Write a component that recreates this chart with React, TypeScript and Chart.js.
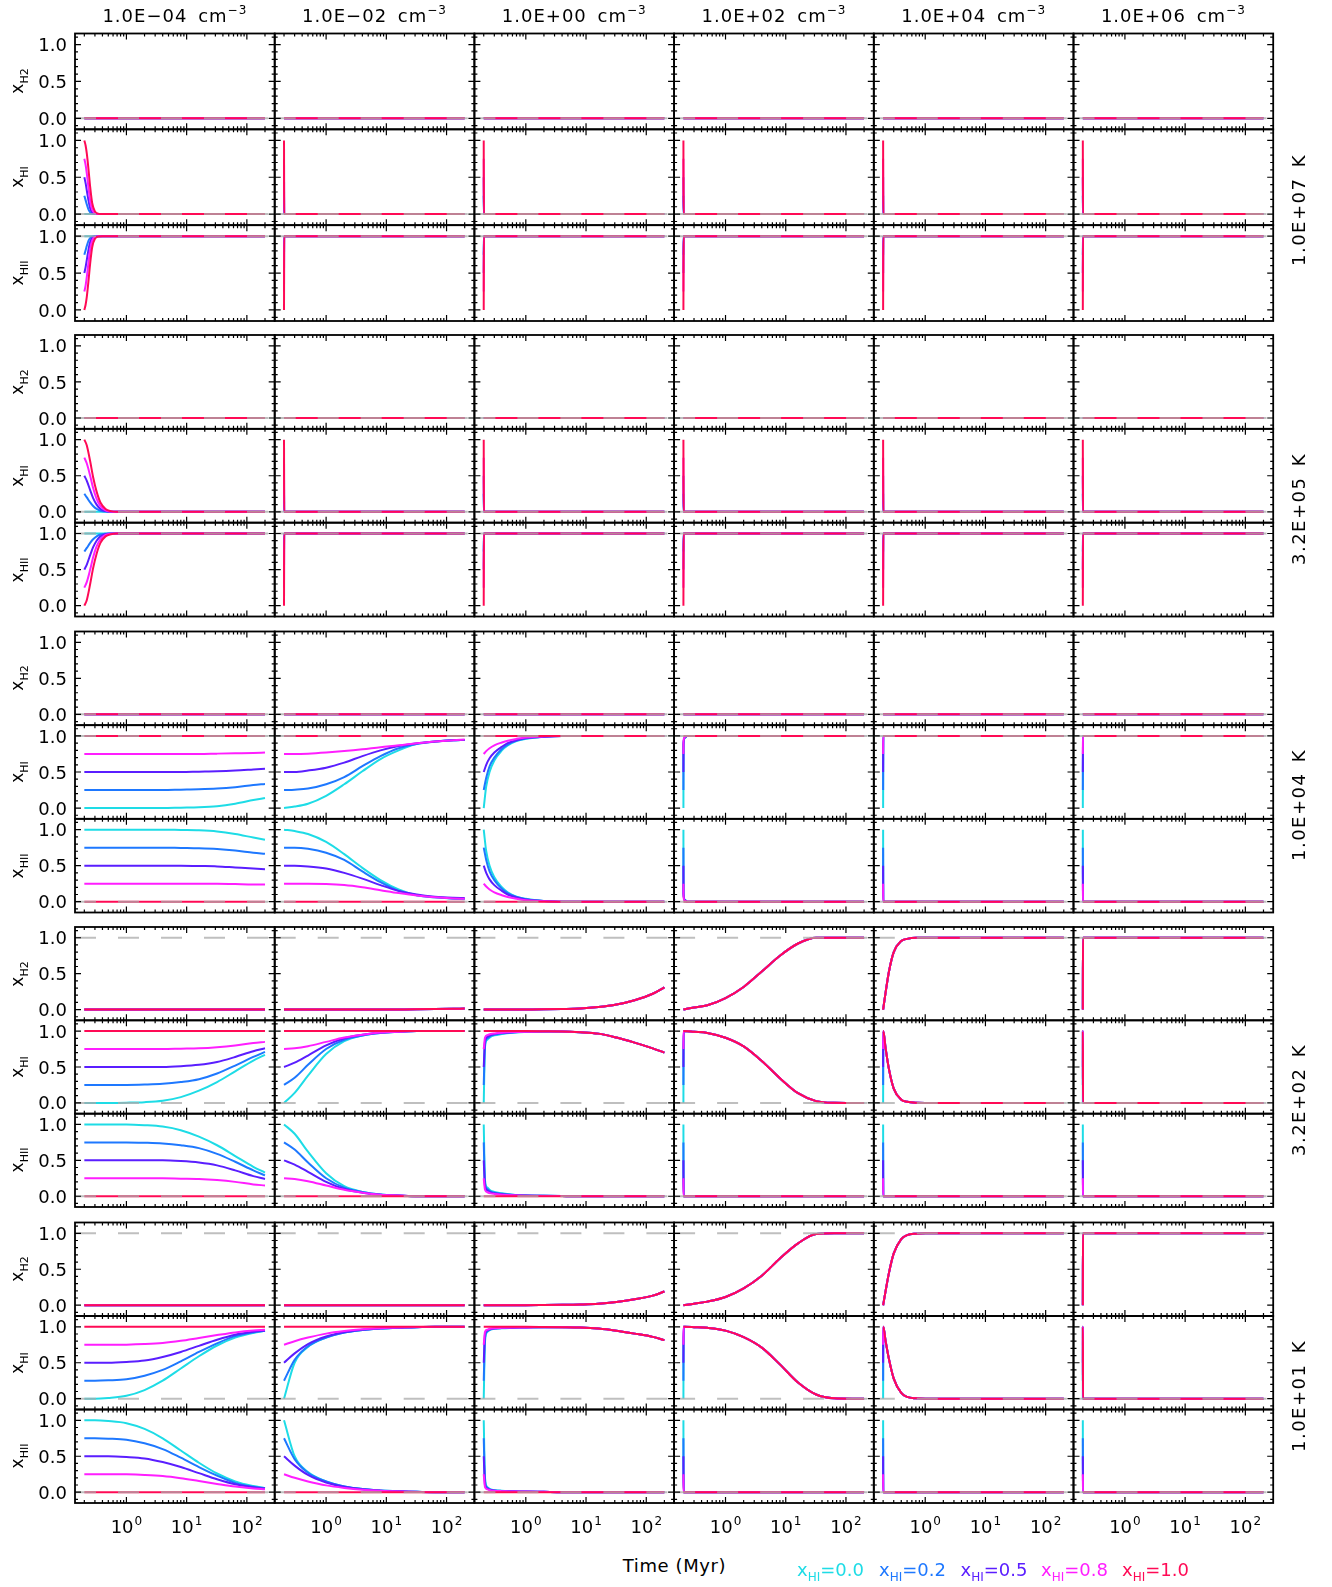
import React, { useEffect, useRef } from "react";
import { Chart, registerables } from "chart.js";

Chart.register(...registerables);

// ---------------- labels & categories ----------------
const COLUMN_DENSITIES = ["1.0E−04", "1.0E−02", "1.0E+00", "1.0E+02", "1.0E+04", "1.0E+06"];
const TEMPERATURES = ["1.0E+07 K", "3.2E+05 K", "1.0E+04 K", "3.2E+02 K", "1.0E+01 K"];
const SPECIES = ["H2", "HI", "HII"];
const RUN_LABELS = ["0.0", "0.2", "0.5", "0.8", "1.0"];
const RUN_COLORS = ["#1edce6", "#1e78ff", "#5a1eff", "#ff1eff", "#ff0a55"];
const GRAY = "rgba(170,170,170,0.75)";

// initial fractions of the five runs
const START_HI = [0, 0.25, 0.5, 0.75, 1];
const START_HII = [1, 0.75, 0.5, 0.25, 0];
// equilibrium (dashed gray) values per temperature: [H2, HI, HII]
const EQUILIBRIUM = [
  [0, 0, 1],
  [0, 0, 1],
  [0, 1, 0],
  [1, 0, 0],
  [1, 0, 0],
];

// axes
const X_MIN = 0.14;
const X_MAX = 290;
const Y_MIN = -0.15;
const Y_MAX = 1.15;
const X_MAJOR = [1, 10, 100];
const X_MINOR = [0.2, 0.3, 0.4, 0.5, 0.6, 0.7, 0.8, 0.9, 2, 3, 4, 5, 6, 7, 8, 9, 20, 30, 40, 50, 60, 70, 80, 90, 200];
const Y_MAJOR = [0, 0.5, 1];
const Y_MINOR = [-0.1, 0.1, 0.2, 0.3, 0.4, 0.6, 0.7, 0.8, 0.9, 1.1];

// ---------------- time grids (Myr) ----------------
const T_FLAT = [0.2, 200];
const T_STEP = [0.2, 0.201, 200];
const T_SPIKE = [0.2, 0.2005, 0.201, 200];
const T_EDGE = [0.2, 0.2005, 0.21, 0.23, 200];
const T_ION1 = [0.2, 0.21, 0.22, 0.235, 0.25, 0.27, 0.3, 0.35, 0.4, 200];
const T_ION2 = [0.2, 0.22, 0.25, 0.28, 0.32, 0.37, 0.45, 0.55, 0.7, 200];
const T_SLOW = [0.2, 0.3, 0.5, 1, 2, 4, 8, 16, 32, 64, 128, 200];
const T_FAST = [0.2, 0.22, 0.25, 0.3, 0.4, 0.5, 0.7, 1, 2, 4, 10, 200];
const T_MIX = [0.2, 0.21, 0.23, 0.26, 0.3, 0.4, 0.6, 1, 2, 4, 8, 16, 32, 64, 128, 200];
const T_LATE = [0.2, 0.201, 0.3, 0.5, 1, 2, 4, 8, 16, 32, 64, 128, 200];
const T_JUMP = [0.2, 0.201, 0.22, 0.25, 0.3, 0.4, 0.5, 0.7, 1, 200];

// ---------------- generic curves ----------------
const H2_NONE = [[0, 0], [0, 0], [0, 0], [0, 0], [0, 0]];
const HI_DROP = [[0, 0, 0], [0.25, 0, 0], [0.5, 0, 0], [0.75, 0, 0], [1, 0, 0]];
const HII_RISE = [[1, 1, 1], [0.75, 1, 1], [0.5, 1, 1], [0.25, 1, 1], [0, 1, 1]];
const HI_RISE = [[0, 1, 1], [0.25, 1, 1], [0.5, 1, 1], [0.75, 1, 1], [1, 1, 1]];
const HII_DROP = [[1, 0, 0], [0.75, 0, 0], [0.5, 0, 0], [0.25, 0, 0], [0, 0, 0]];
const HI_SPIKE = [[0, 1, 0, 0], [0.25, 1, 0, 0], [0.5, 1, 0, 0], [0.75, 1, 0, 0], [1, 1, 0, 0]];
const H2_STEP = [0, 1, 1];

// ---------------- 1.0E+07 K ----------------
const HI_G0_C0 = [
  [0, 0, 0, 0, 0, 0, 0, 0, 0, 0],
  [0.25, 0.19, 0.13, 0.06, 0.025, 0.007, 0.001, 0, 0, 0],
  [0.5, 0.42, 0.32, 0.18, 0.08, 0.025, 0.004, 0, 0, 0],
  [0.75, 0.67, 0.55, 0.35, 0.18, 0.06, 0.012, 0.001, 0, 0],
  [1, 0.93, 0.82, 0.6, 0.37, 0.15, 0.035, 0.003, 0, 0],
];
const HII_G0_C0 = [
  [1, 1, 1, 1, 1, 1, 1, 1, 1, 1],
  [0.75, 0.81, 0.87, 0.94, 0.975, 0.993, 0.999, 1, 1, 1],
  [0.5, 0.58, 0.68, 0.82, 0.92, 0.975, 0.996, 1, 1, 1],
  [0.25, 0.33, 0.45, 0.65, 0.82, 0.94, 0.988, 0.999, 1, 1],
  [0, 0.07, 0.18, 0.4, 0.63, 0.85, 0.965, 0.997, 1, 1],
];

// ---------------- 3.2E+05 K ----------------
const HI_G1_C0 = [
  [0, 0, 0, 0, 0, 0, 0, 0, 0, 0],
  [0.25, 0.2, 0.13, 0.08, 0.04, 0.015, 0.003, 0, 0, 0],
  [0.5, 0.43, 0.3, 0.19, 0.1, 0.04, 0.01, 0.001, 0, 0],
  [0.75, 0.67, 0.5, 0.33, 0.18, 0.08, 0.02, 0.004, 0, 0],
  [1, 0.92, 0.7, 0.48, 0.28, 0.13, 0.04, 0.01, 0, 0],
];
const HII_G1_C0 = [
  [1, 1, 1, 1, 1, 1, 1, 1, 1, 1],
  [0.75, 0.8, 0.87, 0.92, 0.96, 0.985, 0.997, 1, 1, 1],
  [0.5, 0.57, 0.7, 0.81, 0.9, 0.96, 0.99, 0.999, 1, 1],
  [0.25, 0.33, 0.5, 0.67, 0.82, 0.92, 0.98, 0.996, 1, 1],
  [0, 0.08, 0.3, 0.52, 0.72, 0.87, 0.96, 0.99, 1, 1],
];

// ---------------- 1.0E+04 K ----------------
const HI_G2_C0 = [
  [0, 0, 0, 0, 0, 0, 0.005, 0.01, 0.025, 0.06, 0.11, 0.14],
  [0.25, 0.25, 0.25, 0.25, 0.25, 0.25, 0.255, 0.26, 0.27, 0.29, 0.32, 0.335],
  [0.5, 0.5, 0.5, 0.5, 0.5, 0.5, 0.5, 0.505, 0.51, 0.52, 0.535, 0.545],
  [0.75, 0.75, 0.75, 0.75, 0.75, 0.75, 0.75, 0.75, 0.755, 0.76, 0.765, 0.77],
  [1, 1, 1, 1, 1, 1, 1, 1, 1, 1, 1, 1],
];
const HII_G2_C0 = [
  [1, 1, 1, 1, 1, 1, 0.995, 0.99, 0.975, 0.94, 0.89, 0.86],
  [0.75, 0.75, 0.75, 0.75, 0.75, 0.75, 0.745, 0.74, 0.73, 0.71, 0.68, 0.665],
  [0.5, 0.5, 0.5, 0.5, 0.5, 0.5, 0.5, 0.495, 0.49, 0.475, 0.46, 0.45],
  [0.25, 0.25, 0.25, 0.25, 0.25, 0.25, 0.25, 0.25, 0.25, 0.245, 0.24, 0.24],
  [0, 0, 0, 0, 0, 0, 0, 0, 0, 0, 0, 0],
];
const HI_G2_C1 = [
  [0, 0.02, 0.06, 0.17, 0.33, 0.51, 0.68, 0.8, 0.89, 0.925, 0.94, 0.945],
  [0.25, 0.255, 0.27, 0.33, 0.43, 0.58, 0.72, 0.83, 0.89, 0.92, 0.94, 0.945],
  [0.5, 0.5, 0.52, 0.56, 0.63, 0.72, 0.8, 0.86, 0.9, 0.925, 0.94, 0.945],
  [0.75, 0.75, 0.755, 0.77, 0.79, 0.815, 0.845, 0.87, 0.9, 0.925, 0.94, 0.95],
  [1, 1, 1, 1, 1, 1, 1, 1, 1, 1, 1, 1],
];
const HII_G2_C1 = [
  [1, 0.98, 0.94, 0.83, 0.66, 0.47, 0.3, 0.17, 0.09, 0.06, 0.04, 0.035],
  [0.75, 0.75, 0.735, 0.68, 0.58, 0.42, 0.27, 0.15, 0.09, 0.06, 0.045, 0.04],
  [0.5, 0.5, 0.49, 0.46, 0.4, 0.32, 0.23, 0.15, 0.1, 0.07, 0.055, 0.05],
  [0.25, 0.25, 0.25, 0.245, 0.23, 0.2, 0.16, 0.12, 0.085, 0.06, 0.045, 0.04],
  [0, 0, 0, 0, 0, 0, 0, 0, 0, 0, 0, 0],
];
const HI_G2_C2 = [
  [0, 0.3, 0.5, 0.66, 0.8, 0.87, 0.93, 0.96, 0.99, 1, 1, 1],
  [0.25, 0.42, 0.58, 0.7, 0.82, 0.88, 0.935, 0.965, 0.99, 1, 1, 1],
  [0.5, 0.6, 0.69, 0.77, 0.85, 0.9, 0.94, 0.97, 0.99, 1, 1, 1],
  [0.75, 0.79, 0.83, 0.87, 0.91, 0.935, 0.96, 0.98, 0.995, 1, 1, 1],
  [1, 1, 1, 1, 1, 1, 1, 1, 1, 1, 1, 1],
];
const HII_G2_C2 = [
  [1, 0.7, 0.5, 0.34, 0.2, 0.13, 0.07, 0.04, 0.01, 0, 0, 0],
  [0.75, 0.58, 0.42, 0.3, 0.18, 0.12, 0.065, 0.035, 0.01, 0, 0, 0],
  [0.5, 0.4, 0.31, 0.23, 0.15, 0.1, 0.06, 0.03, 0.01, 0, 0, 0],
  [0.25, 0.21, 0.17, 0.13, 0.09, 0.065, 0.04, 0.02, 0.005, 0, 0, 0],
  [0, 0, 0, 0, 0, 0, 0, 0, 0, 0, 0, 0],
];
const HI_G2_C3 = [
  [0, 0.85, 0.97, 1, 1],
  [0.25, 0.88, 0.975, 1, 1],
  [0.5, 0.9, 0.98, 1, 1],
  [0.75, 0.93, 0.985, 1, 1],
  [1, 1, 1, 1, 1],
];
const HII_G2_C3 = [
  [1, 0.15, 0.03, 0, 0],
  [0.75, 0.12, 0.025, 0, 0],
  [0.5, 0.1, 0.02, 0, 0],
  [0.25, 0.07, 0.015, 0, 0],
  [0, 0, 0, 0, 0],
];

// ---------------- 3.2E+02 K ----------------
const H2_G3_C1 = [0, 0, 0, 0, 0, 0, 0, 0.002, 0.004, 0.007, 0.011, 0.014];
const H2_G3_C2 = [0, 0, 0, 0.002, 0.004, 0.008, 0.015, 0.035, 0.07, 0.13, 0.22, 0.31];
const H2_G3_C3 = [0, 0.03, 0.06, 0.16, 0.315, 0.53, 0.75, 0.92, 1, 1, 1, 1];
const H2_G3_C4 = [0, 0.24, 0.53, 0.8, 0.955, 0.985, 1, 1, 1, 1, 1, 1];
const HI_G3_C0 = [
  [0, 0, 0, 0.003, 0.01, 0.03, 0.08, 0.17, 0.29, 0.44, 0.59, 0.67],
  [0.25, 0.25, 0.25, 0.25, 0.255, 0.265, 0.29, 0.33, 0.41, 0.52, 0.64, 0.71],
  [0.5, 0.5, 0.5, 0.5, 0.5, 0.5, 0.51, 0.53, 0.57, 0.64, 0.72, 0.76],
  [0.75, 0.75, 0.75, 0.75, 0.75, 0.75, 0.755, 0.76, 0.775, 0.8, 0.835, 0.85],
  [1, 1, 1, 1, 1, 1, 1, 1, 1, 1, 1, 1],
];
const HII_G3_C0 = [
  [1, 1, 1, 1, 0.99, 0.97, 0.92, 0.83, 0.71, 0.56, 0.41, 0.33],
  [0.75, 0.75, 0.75, 0.75, 0.745, 0.735, 0.71, 0.67, 0.59, 0.48, 0.36, 0.29],
  [0.5, 0.5, 0.5, 0.5, 0.5, 0.5, 0.49, 0.47, 0.43, 0.36, 0.28, 0.24],
  [0.25, 0.25, 0.25, 0.25, 0.25, 0.25, 0.245, 0.24, 0.225, 0.2, 0.165, 0.15],
  [0, 0, 0, 0, 0, 0, 0, 0, 0, 0, 0, 0],
];
const HI_G3_C1 = [
  [0, 0.14, 0.38, 0.68, 0.86, 0.94, 0.975, 0.99, 1, 1, 1, 1],
  [0.25, 0.35, 0.53, 0.75, 0.88, 0.94, 0.975, 0.99, 1, 1, 1, 1],
  [0.5, 0.56, 0.66, 0.8, 0.9, 0.95, 0.98, 0.99, 1, 1, 1, 1],
  [0.75, 0.76, 0.79, 0.85, 0.91, 0.95, 0.98, 0.99, 1, 1, 1, 1],
  [1, 1, 1, 1, 1, 1, 1, 1, 1, 1, 1, 1],
];
const HII_G3_C1 = [
  [1, 0.87, 0.62, 0.32, 0.14, 0.06, 0.025, 0.01, 0, 0, 0, 0],
  [0.75, 0.65, 0.47, 0.25, 0.12, 0.06, 0.025, 0.01, 0, 0, 0, 0],
  [0.5, 0.44, 0.34, 0.2, 0.1, 0.05, 0.02, 0.01, 0, 0, 0, 0],
  [0.25, 0.24, 0.21, 0.15, 0.09, 0.05, 0.02, 0.01, 0, 0, 0, 0],
  [0, 0, 0, 0, 0, 0, 0, 0, 0, 0, 0, 0],
];
const HI_G3_C2 = [
  [0, 0.78, 0.88, 0.92, 0.94, 0.96, 0.978, 0.988, 0.995, 0.995, 0.985, 0.965, 0.91, 0.84, 0.76, 0.7],
  [0.25, 0.82, 0.9, 0.935, 0.95, 0.967, 0.98, 0.99, 0.995, 0.995, 0.985, 0.965, 0.91, 0.84, 0.76, 0.7],
  [0.5, 0.86, 0.92, 0.945, 0.958, 0.972, 0.983, 0.99, 0.995, 0.995, 0.985, 0.965, 0.91, 0.84, 0.76, 0.7],
  [0.75, 0.91, 0.945, 0.96, 0.968, 0.978, 0.986, 0.992, 0.996, 0.995, 0.985, 0.965, 0.91, 0.84, 0.76, 0.7],
  [1, 1, 1, 1, 1, 1, 1, 1, 0.998, 0.995, 0.985, 0.965, 0.91, 0.84, 0.76, 0.7],
];
const HII_G3_C2 = [
  [1, 0.22, 0.12, 0.08, 0.06, 0.04, 0.022, 0.012, 0.005, 0.002, 0, 0, 0, 0, 0, 0],
  [0.75, 0.18, 0.1, 0.065, 0.05, 0.033, 0.02, 0.01, 0.005, 0.002, 0, 0, 0, 0, 0, 0],
  [0.5, 0.14, 0.08, 0.055, 0.042, 0.028, 0.017, 0.01, 0.005, 0.002, 0, 0, 0, 0, 0, 0],
  [0.25, 0.09, 0.055, 0.04, 0.032, 0.022, 0.014, 0.008, 0.004, 0.002, 0, 0, 0, 0, 0, 0],
  [0, 0, 0, 0, 0, 0, 0, 0, 0, 0, 0, 0, 0, 0, 0, 0],
];
const HI_G3_C3_TAIL = [1, 0.99, 0.975, 0.907, 0.787, 0.584, 0.344, 0.135, 0.025, 0.002, 0, 0];
const HI_G3_C4_TAIL = [1, 0.76, 0.47, 0.2, 0.045, 0.015, 0.002, 0, 0];

// ---------------- 1.0E+01 K ----------------
const H2_G4_C2 = [0, 0, 0, 0, 0.002, 0.005, 0.01, 0.02, 0.045, 0.083, 0.133, 0.19];
const H2_G4_C3 = [0, 0.02, 0.05, 0.115, 0.235, 0.41, 0.65, 0.86, 0.99, 1, 1, 1];
const H2_G4_C4 = [0, 0.2, 0.45, 0.72, 0.92, 0.975, 0.995, 1, 1, 1, 1, 1];
const HI_G4_C0 = [
  [0, 0, 0.01, 0.04, 0.12, 0.25, 0.42, 0.59, 0.74, 0.85, 0.915, 0.943],
  [0.25, 0.25, 0.255, 0.27, 0.32, 0.4, 0.52, 0.65, 0.77, 0.87, 0.925, 0.945],
  [0.5, 0.5, 0.5, 0.51, 0.53, 0.58, 0.65, 0.735, 0.82, 0.89, 0.93, 0.95],
  [0.75, 0.75, 0.75, 0.752, 0.76, 0.775, 0.805, 0.845, 0.885, 0.922, 0.948, 0.958],
  [1, 1, 1, 1, 1, 1, 1, 1, 1, 1, 1, 1],
];
const HII_G4_C0 = [
  [1, 1, 0.99, 0.96, 0.88, 0.75, 0.58, 0.41, 0.26, 0.15, 0.085, 0.057],
  [0.75, 0.75, 0.745, 0.73, 0.68, 0.6, 0.48, 0.35, 0.23, 0.13, 0.075, 0.055],
  [0.5, 0.5, 0.5, 0.49, 0.47, 0.42, 0.35, 0.265, 0.18, 0.11, 0.07, 0.05],
  [0.25, 0.25, 0.25, 0.248, 0.24, 0.225, 0.195, 0.155, 0.115, 0.078, 0.052, 0.042],
  [0, 0, 0, 0, 0, 0, 0, 0, 0, 0, 0, 0],
];
const HI_G4_C1 = [
  [0, 0.5, 0.72, 0.85, 0.92, 0.955, 0.975, 0.985, 0.995, 1, 1, 1],
  [0.25, 0.54, 0.73, 0.85, 0.92, 0.955, 0.975, 0.985, 0.995, 1, 1, 1],
  [0.5, 0.63, 0.76, 0.865, 0.925, 0.96, 0.978, 0.988, 0.995, 1, 1, 1],
  [0.75, 0.8, 0.85, 0.905, 0.94, 0.965, 0.98, 0.99, 0.996, 1, 1, 1],
  [1, 1, 1, 1, 1, 1, 1, 1, 1, 1, 1, 1],
];
const HII_G4_C1 = [
  [1, 0.5, 0.28, 0.15, 0.08, 0.045, 0.025, 0.015, 0.005, 0, 0, 0],
  [0.75, 0.46, 0.27, 0.15, 0.08, 0.045, 0.025, 0.015, 0.005, 0, 0, 0],
  [0.5, 0.37, 0.24, 0.135, 0.075, 0.04, 0.022, 0.012, 0.005, 0, 0, 0],
  [0.25, 0.2, 0.15, 0.095, 0.06, 0.035, 0.02, 0.01, 0.004, 0, 0, 0],
  [0, 0, 0, 0, 0, 0, 0, 0, 0, 0, 0, 0],
];
const HI_G4_C2 = [
  [0, 0.8, 0.93, 0.96, 0.97, 0.98, 0.985, 0.99, 0.995, 0.995, 0.99, 0.975, 0.945, 0.905, 0.86, 0.815],
  [0.25, 0.85, 0.94, 0.965, 0.975, 0.982, 0.987, 0.99, 0.995, 0.995, 0.99, 0.975, 0.945, 0.905, 0.86, 0.815],
  [0.5, 0.9, 0.95, 0.97, 0.978, 0.985, 0.988, 0.99, 0.995, 0.995, 0.99, 0.975, 0.945, 0.905, 0.86, 0.815],
  [0.75, 0.93, 0.96, 0.975, 0.98, 0.985, 0.99, 0.99, 0.995, 0.995, 0.99, 0.975, 0.945, 0.905, 0.86, 0.815],
  [1, 1, 1, 1, 1, 1, 1, 1, 0.998, 0.995, 0.99, 0.975, 0.945, 0.905, 0.86, 0.815],
];
const HII_G4_C2 = [
  [1, 0.2, 0.07, 0.04, 0.03, 0.02, 0.015, 0.01, 0.005, 0, 0, 0, 0, 0, 0, 0],
  [0.75, 0.15, 0.06, 0.035, 0.025, 0.018, 0.013, 0.01, 0.005, 0, 0, 0, 0, 0, 0, 0],
  [0.5, 0.1, 0.05, 0.03, 0.022, 0.015, 0.012, 0.01, 0.005, 0, 0, 0, 0, 0, 0, 0],
  [0.25, 0.07, 0.04, 0.025, 0.02, 0.015, 0.01, 0.01, 0.005, 0, 0, 0, 0, 0, 0, 0],
  [0, 0, 0, 0, 0, 0, 0, 0, 0, 0, 0, 0, 0, 0, 0, 0],
];
const HI_G4_C3_TAIL = [1, 0.995, 0.985, 0.947, 0.856, 0.71, 0.477, 0.225, 0.058, 0.005, 0, 0];
const HI_G4_C4_TAIL = [1, 0.8, 0.55, 0.28, 0.08, 0.025, 0.005, 0, 0];

// ---------------- table assembly ----------------
type Series = { t: number[]; v: number[] };
const S = (t: number[], rows: number[][]): Series[] => rows.map((v) => ({ t, v }));
const same5 = (v: number[]) => [v, v, v, v, v];
const startThen = (starts: number[], tail: number[]) => starts.map((s) => [s, ...tail]);
function rep<T>(x: T, n: number): T[] {
  const out: T[] = [];
  for (let i = 0; i < n; i++) out.push(x);
  return out;
}
const H2_FLAT = S(T_FLAT, H2_NONE);

const PANELS: Series[][][][] = [
  [
    rep(H2_FLAT, 6),
    [S(T_ION1, HI_G0_C0), ...rep(S(T_STEP, HI_DROP), 5)],
    [S(T_ION1, HII_G0_C0), ...rep(S(T_STEP, HII_RISE), 5)],
  ],
  [
    rep(H2_FLAT, 6),
    [S(T_ION2, HI_G1_C0), ...rep(S(T_STEP, HI_DROP), 5)],
    [S(T_ION2, HII_G1_C0), ...rep(S(T_STEP, HII_RISE), 5)],
  ],
  [
    rep(H2_FLAT, 6),
    [S(T_SLOW, HI_G2_C0), S(T_SLOW, HI_G2_C1), S(T_FAST, HI_G2_C2), S(T_EDGE, HI_G2_C3), S(T_STEP, HI_RISE), S(T_STEP, HI_RISE)],
    [S(T_SLOW, HII_G2_C0), S(T_SLOW, HII_G2_C1), S(T_FAST, HII_G2_C2), S(T_EDGE, HII_G2_C3), S(T_STEP, HII_DROP), S(T_STEP, HII_DROP)],
  ],
  [
    [H2_FLAT, S(T_SLOW, same5(H2_G3_C1)), S(T_SLOW, same5(H2_G3_C2)), S(T_SLOW, same5(H2_G3_C3)), S(T_FAST, same5(H2_G3_C4)), S(T_STEP, same5(H2_STEP))],
    [
      S(T_SLOW, HI_G3_C0),
      S(T_SLOW, HI_G3_C1),
      S(T_MIX, HI_G3_C2),
      S(T_LATE, startThen(START_HI, HI_G3_C3_TAIL)),
      S(T_JUMP, startThen(START_HI, HI_G3_C4_TAIL)),
      S(T_SPIKE, HI_SPIKE),
    ],
    [S(T_SLOW, HII_G3_C0), S(T_SLOW, HII_G3_C1), S(T_MIX, HII_G3_C2), S(T_STEP, HII_DROP), S(T_STEP, HII_DROP), S(T_STEP, HII_DROP)],
  ],
  [
    [H2_FLAT, H2_FLAT, S(T_SLOW, same5(H2_G4_C2)), S(T_SLOW, same5(H2_G4_C3)), S(T_FAST, same5(H2_G4_C4)), S(T_STEP, same5(H2_STEP))],
    [
      S(T_SLOW, HI_G4_C0),
      S(T_SLOW, HI_G4_C1),
      S(T_MIX, HI_G4_C2),
      S(T_LATE, startThen(START_HI, HI_G4_C3_TAIL)),
      S(T_JUMP, startThen(START_HI, HI_G4_C4_TAIL)),
      S(T_SPIKE, HI_SPIKE),
    ],
    [S(T_SLOW, HII_G4_C0), S(T_SLOW, HII_G4_C1), S(T_MIX, HII_G4_C2), S(T_STEP, HII_DROP), S(T_STEP, HII_DROP), S(T_STEP, HII_DROP)],
  ],
];

// ---------------- layout ----------------
const COL_LEFT = 75;
const COL_W = 199.7;
const GROUP_TOP = [33.5, 335, 631.5, 927, 1222.5];
const GROUP_H = [287.5, 281.5, 281, 280, 280.5];
const FONT = '"DejaVu Sans", sans-serif';

function panelRect(g: number, r: number, c: number) {
  const h = GROUP_H[g] / 3;
  return { left: COL_LEFT + c * COL_W, top: GROUP_TOP[g] + r * h, w: COL_W, h };
}

const framePlugin = {
  id: "frame",
  afterDatasetsDraw(chart: any, _args: any, opts: any) {
    const { ctx, chartArea: a } = chart;
    const xs = chart.scales.x;
    const ys = chart.scales.y;
    ctx.save();
    ctx.strokeStyle = "#000";
    ctx.lineWidth = 1.2;
    ctx.beginPath();
    const yTick = (v: number, len: number) => {
      const y = ys.getPixelForValue(v);
      ctx.moveTo(a.left, y);
      ctx.lineTo(a.left + len, y);
      ctx.moveTo(a.right, y);
      ctx.lineTo(a.right - len, y);
    };
    const xTick = (v: number, len: number) => {
      const x = xs.getPixelForValue(v);
      ctx.moveTo(x, a.top);
      ctx.lineTo(x, a.top + len);
      ctx.moveTo(x, a.bottom);
      ctx.lineTo(x, a.bottom - len);
    };
    Y_MAJOR.forEach((v) => yTick(v, 6));
    Y_MINOR.forEach((v) => yTick(v, 3));
    X_MAJOR.forEach((v) => xTick(v, 6));
    X_MINOR.forEach((v) => xTick(v, 3));
    ctx.stroke();
    ctx.lineWidth = 1.8;
    ctx.strokeRect(a.left, a.top, a.right - a.left, a.bottom - a.top);
    ctx.fillStyle = "#000";
    if (opts && opts.yLabels) {
      ctx.font = `18px ${FONT}`;
      ctx.textAlign = "right";
      ctx.textBaseline = "alphabetic";
      Y_MAJOR.forEach((v) => {
        ctx.fillText(v.toFixed(1), a.left - 8, ys.getPixelForValue(v) + 6.6);
      });
    }
    if (opts && opts.xLabels) {
      ctx.textAlign = "left";
      ctx.textBaseline = "alphabetic";
      X_MAJOR.forEach((v) => {
        const exp = String(Math.round(Math.log10(v)));
        ctx.font = `18px ${FONT}`;
        const wBase = ctx.measureText("10").width;
        ctx.font = `12px ${FONT}`;
        const wExp = ctx.measureText(exp).width;
        const x0 = xs.getPixelForValue(v) - (wBase + wExp + 1) / 2;
        const base = a.bottom + 30;
        ctx.font = `18px ${FONT}`;
        ctx.fillText("10", x0, base);
        ctx.font = `12px ${FONT}`;
        ctx.fillText(exp, x0 + wBase + 1, base - 8);
      });
    }
    ctx.restore();
  },
};

function Panel({ g, r, c }: { g: number; r: number; c: number }) {
  const ref = useRef<HTMLCanvasElement | null>(null);
  const rect = panelRect(g, r, c);
  const mL = c === 0 ? 50 : 6;
  const mR = 6;
  const mT = 6;
  const mB = g === 4 && r === 2 ? 45 : 6;
  const cx = Math.floor(rect.left) - mL;
  const cy = Math.floor(rect.top) - mT;
  const cw = Math.ceil(rect.left + rect.w) + mR - cx;
  const ch = Math.ceil(rect.top + rect.h) + mB - cy;
  const pad = {
    left: rect.left - cx,
    top: rect.top - cy,
    right: cx + cw - (rect.left + rect.w),
    bottom: cy + ch - (rect.top + rect.h),
  };

  useEffect(() => {
    const canvas = ref.current;
    if (!canvas) return;
    const series = PANELS[g][r][c];
    const eq = EQUILIBRIUM[g][r];
    const datasets: any[] = series.map((s, k) => ({
      label: `xHI=${RUN_LABELS[k]}`,
      data: s.t.map((x, i) => ({ x, y: s.v[i] })),
      borderColor: RUN_COLORS[k],
      backgroundColor: RUN_COLORS[k],
      borderWidth: 2,
      pointRadius: 0,
      fill: false,
      cubicInterpolationMode: "monotone",
      order: 5 - k,
    }));
    datasets.push({
      label: "equilibrium",
      data: [
        { x: X_MIN, y: eq },
        { x: X_MAX, y: eq },
      ],
      borderColor: GRAY,
      borderWidth: 2,
      borderDash: [21, 22],
      pointRadius: 0,
      fill: false,
      order: 0,
    });
    const chart = new Chart(canvas, {
      type: "line",
      data: { datasets },
      options: {
        animation: false,
        responsive: false,
        maintainAspectRatio: false,
        devicePixelRatio: 1,
        events: [],
        layout: { padding: pad },
        scales: {
          x: { type: "logarithmic", min: X_MIN, max: X_MAX, display: false },
          y: { type: "linear", min: Y_MIN, max: Y_MAX, display: false },
        },
        plugins: {
          legend: { display: false },
          tooltip: { enabled: false },
          frame: { yLabels: c === 0, xLabels: g === 4 && r === 2 },
        } as any,
      },
      plugins: [framePlugin],
    } as any);
    return () => chart.destroy();
  }, []);

  return (
    <canvas
      ref={ref}
      width={cw}
      height={ch}
      style={{ position: "absolute", left: cx, top: cy, width: cw, height: ch }}
    />
  );
}

const subStyle: React.CSSProperties = { fontSize: 12, position: "relative", top: 5 };

export default function App() {
  const panels: React.ReactNode[] = [];
  const yTitles: React.ReactNode[] = [];
  for (let g = 0; g < 5; g++) {
    for (let r = 0; r < 3; r++) {
      for (let c = 0; c < 6; c++) panels.push(<Panel key={`p${g}-${r}-${c}`} g={g} r={r} c={c} />);
      const rc = panelRect(g, r, 0);
      yTitles.push(
        <div
          key={`yt${g}-${r}`}
          style={{
            position: "absolute",
            left: 18,
            top: rc.top + rc.h / 2,
            transform: "translate(-50%, -50%) rotate(-90deg)",
            fontSize: 17,
            whiteSpace: "nowrap",
            lineHeight: "18px",
          }}
        >
          x<span style={{ fontSize: 11, position: "relative", top: 5 }}>{SPECIES[r]}</span>
        </div>
      );
    }
  }

  return (
    <div
      style={{
        position: "absolute",
        left: 0,
        top: 0,
        width: 1332,
        height: 1587,
        background: "#fff",
        fontFamily: FONT,
        color: "#000",
        overflow: "hidden",
      }}
    >
      {panels}
      {yTitles}
      {COLUMN_DENSITIES.map((d, c) => (
        <div
          key={`h${c}`}
          style={{
            position: "absolute",
            left: COL_LEFT + c * COL_W + COL_W / 2,
            top: 6,
            transform: "translateX(-50%)",
            fontSize: 18,
            lineHeight: "20px",
            letterSpacing: 1,
            wordSpacing: 4,
            whiteSpace: "nowrap",
          }}
        >
          {d} cm<span style={{ fontSize: 12, position: "relative", top: -8 }}>−3</span>
        </div>
      ))}
      {TEMPERATURES.map((tx, g) => (
        <div
          key={`t${g}`}
          style={{
            position: "absolute",
            left: 1299,
            top: GROUP_TOP[g] + GROUP_H[g] / 2 + 33,
            transform: "translate(-50%, -50%) rotate(-90deg)",
            fontSize: 18,
            lineHeight: "20px",
            letterSpacing: 1.5,
            wordSpacing: 3,
            whiteSpace: "nowrap",
          }}
        >
          {tx}
        </div>
      ))}
      <div
        style={{
          position: "absolute",
          left: 674.5,
          top: 1566,
          transform: "translate(-50%, -50%)",
          fontSize: 18,
          lineHeight: "20px",
          letterSpacing: 0.6,
          whiteSpace: "nowrap",
        }}
      >
        Time (Myr)
      </div>
      {RUN_LABELS.map((lab, k) => (
        <div
          key={`l${k}`}
          style={{
            position: "absolute",
            left: [797, 879, 960.5, 1041, 1122][k],
            top: 1571,
            transform: "translateY(-50%)",
            fontSize: 18,
            lineHeight: "20px",
            color: RUN_COLORS[k],
            whiteSpace: "nowrap",
          }}
        >
          x<span style={subStyle}>HI</span>={lab}
        </div>
      ))}
    </div>
  );
}
